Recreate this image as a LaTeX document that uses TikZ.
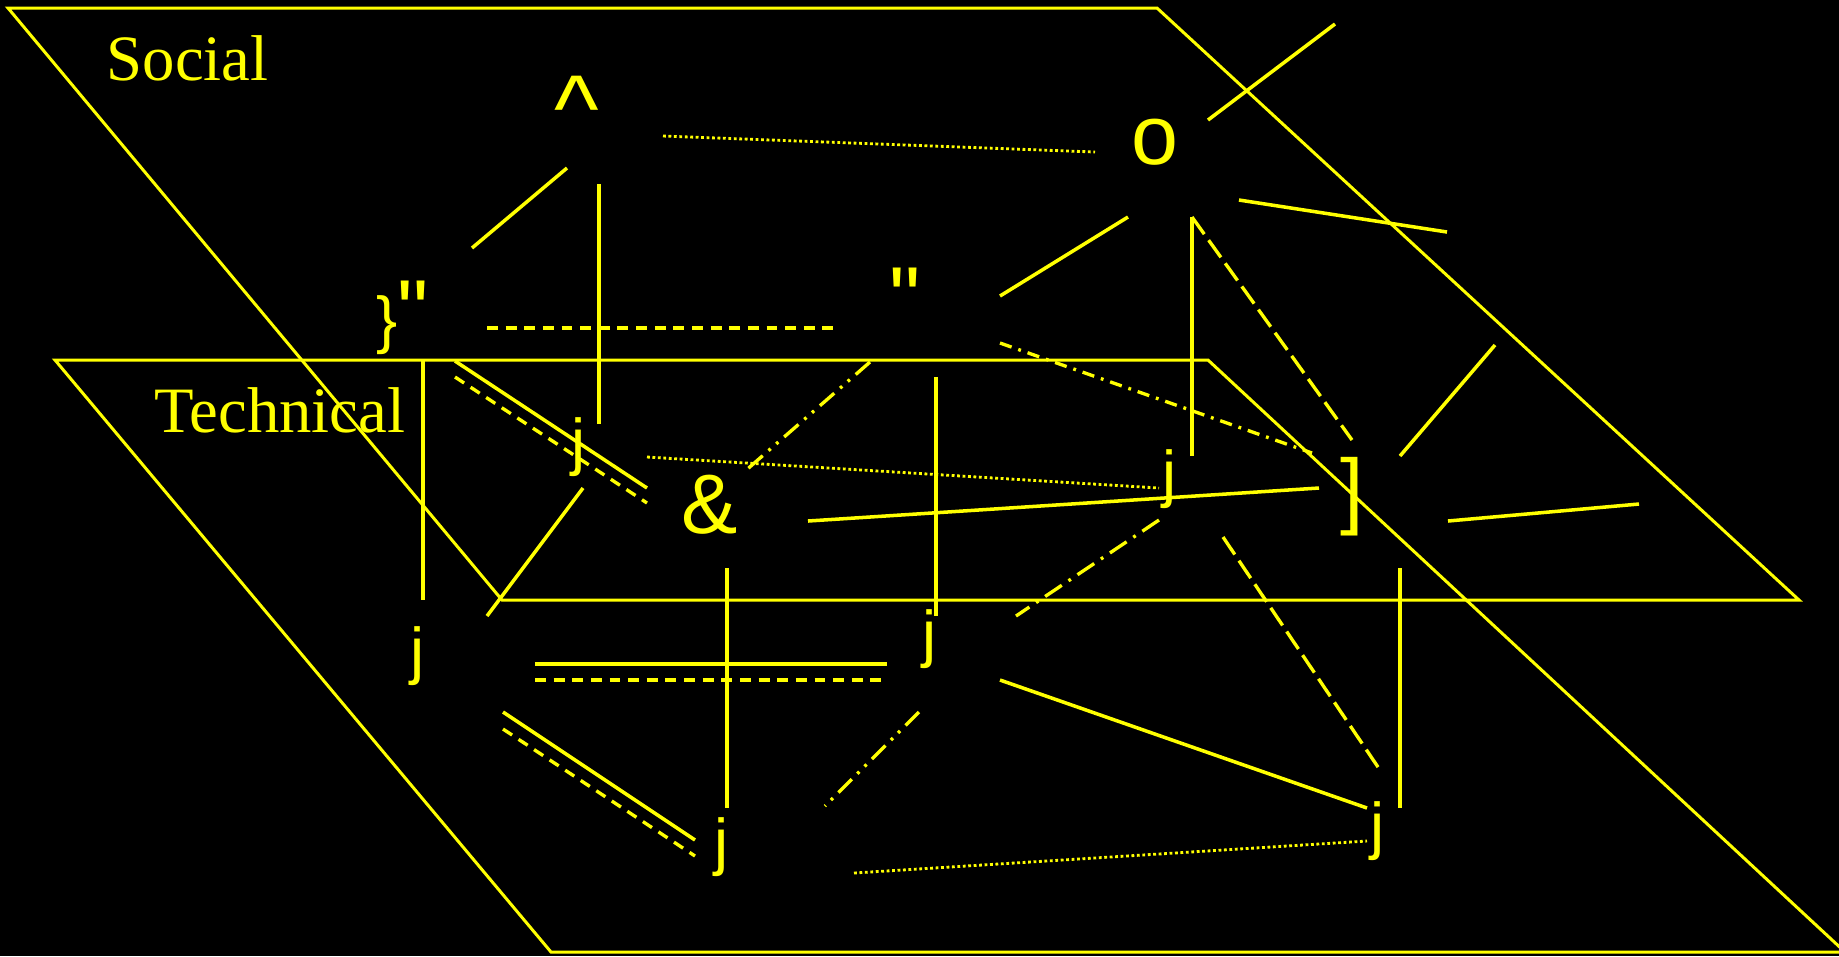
\documentclass[tikz,border=0pt]{standalone}
\usepackage{fontspec}
\setmainfont{Liberation Serif}
\newfontfamily\symsans{Liberation Sans}
\usepackage{xcolor}
\usepackage{tikz}
\definecolor{yel}{HTML}{FFFF00}
\definecolor{bg}{HTML}{000000}

\begin{document}
\begin{tikzpicture}[
  x=0.01cm,y=-0.01cm,
  plane/.style={draw=yel,line width=0.85pt},
  lbl/.style={text=yel,inner sep=0pt,anchor=base west,font=\fontsize{18.4}{20}\selectfont},
  sym/.style={text=yel,inner sep=0pt,anchor=base,font=\symsans\fontsize{24}{26}\selectfont},
  jn/.style={sym,font=\symsans\fontsize{18}{20}\selectfont},
  solidln/.style={draw=yel,line width=1pt},
  dashln/.style={solidln,line width=0.95pt,dash pattern=on 3.1pt off 2.2pt},
  longdashln/.style={solidln,line width=0.95pt,dash pattern=on 6pt off 2.1pt},
  dashdotln/.style={solidln,line width=0.95pt,dash pattern=on 5.7pt off 2.3pt on 0.8pt off 2.3pt},
  shortdashdotln/.style={solidln,line width=0.95pt,dash pattern=on 3.5pt off 2pt on 0.8pt off 2pt},
  dashdotdotln/.style={solidln,line width=0.95pt,dash pattern=on 5.4pt off 2.2pt on 0.8pt off 2.1pt on 0.8pt off 2.2pt},
  dotln/.style={solidln,line width=0.8pt,dash pattern=on 0.8pt off 0.75pt}]
  \useasboundingbox (0,0) rectangle (1839,956);
  \fill[bg] (0,0) rectangle (1839,956);

  % the two layers
  \draw[plane] (8,8) -- (1157,8) -- (1799,600) -- (502,600) -- cycle;
  \draw[plane] (55,360) -- (1208,360) -- (1845,952) -- (551,952) -- cycle;
  \node[lbl] (social) at (106,80) {Social};
  \node[lbl] (technical) at (154,432) {Technical};

  % social layer
  \node[sym,font=\symsans\fontsize{27}{29}\selectfont] (caret) at (577,141) {\textasciicircum};
  \node[sym] (circ) at (1155,164) {o};
  \node[jn] (brq) at (403,341) {\}{\fontsize{25}{27}\selectfont"}};
  \node[sym,font=\symsans\fontsize{25}{27}\selectfont] (quo) at (905,328) {"};
  \node[sym] (amp) at (710,533) {\&};
  \node[sym] (brk) at (1352,518) {]};

  % technical layer
  \node[jn] (ja) at (579,463) {j};
  \node[jn] (jb) at (1170,495) {j};
  \node[jn] (jc) at (418,672) {j};
  \node[jn] (jd) at (930,655) {j};
  \node[jn] (je) at (722,863) {j};
  \node[jn] (jf) at (1378,847) {j};

  % links inside the social layer
  \draw[solidln] ([shift={(-10,27)}]caret.base) -- ([shift={(69,-93)}]brq.base);
  \draw[dotln] ([shift={(86,-5)}]caret.base) -- ([shift={(-60,-12)}]circ.base);
  \draw[dashln] ([shift={(84,-13)}]brq.base) -- ([shift={(-71,0)}]quo.base);
  \draw[solidln] ([shift={(95,-32)}]quo.base) -- ([shift={(-27,53)}]circ.base);
  \draw[solidln] ([shift={(53,-44)}]circ.base) -- ([shift={(180,-140)}]circ.base);
  \draw[solidln] ([shift={(84,36)}]circ.base) -- ([shift={(292,68)}]circ.base);
  \draw[longdashln] ([shift={(37,53)}]circ.base) -- ([shift={(0,-78)}]brk.base);
  \draw[shortdashdotln] ([shift={(95,15)}]quo.base) -- ([shift={(-40,-65)}]brk.base);
  \draw[solidln] ([shift={(52,20)}]brq.base) -- ([shift={(-63,-45)}]amp.base);
  \draw[dashln] ([shift={(52,36)}]brq.base) -- ([shift={(-63,-30)}]amp.base);
  \draw[dashdotdotln] ([shift={(-35,34)}]quo.base) -- ([shift={(34,-61)}]amp.base);
  \draw[solidln] ([shift={(98,-12)}]amp.base) -- ([shift={(-33,-30)}]brk.base);
  \draw[solidln] ([shift={(48,-62)}]brk.base) -- ([shift={(143,-173)}]brk.base);
  \draw[solidln] ([shift={(96,3)}]brk.base) -- ([shift={(287,-14)}]brk.base);

  % links between the layers
  \draw[solidln] ([shift={(22,43)}]caret.base) -- ([shift={(20,-39)}]ja.base);
  \draw[solidln] ([shift={(37,53)}]circ.base) -- ([shift={(22,-39)}]jb.base);
  \draw[solidln] ([shift={(20,20)}]brq.base) -- ([shift={(5,-72)}]jc.base);
  \draw[solidln] ([shift={(31,49)}]quo.base) -- ([shift={(6,-39)}]jd.base);
  \draw[solidln] ([shift={(17,35)}]amp.base) -- ([shift={(5,-55)}]je.base);
  \draw[solidln] ([shift={(48,50)}]brk.base) -- ([shift={(22,-39)}]jf.base);

  % links inside the technical layer
  \draw[dotln] ([shift={(68,-6)}]ja.base) -- ([shift={(-11,-7)}]jb.base);
  \draw[solidln] ([shift={(4,25)}]ja.base) -- ([shift={(69,-56)}]jc.base);
  \draw[dashdotln] ([shift={(-11,25)}]jb.base) -- ([shift={(86,-39)}]jd.base);
  \draw[longdashln] ([shift={(53,42)}]jb.base) -- ([shift={(4,-74)}]jf.base);
  \draw[solidln] ([shift={(117,-8)}]jc.base) -- ([shift={(-43,9)}]jd.base);
  \draw[dashln] ([shift={(117,8)}]jc.base) -- ([shift={(-48,25)}]jd.base);
  \draw[solidln] ([shift={(85,40)}]jc.base) -- ([shift={(-27,-23)}]je.base);
  \draw[dashln] ([shift={(85,57)}]jc.base) -- ([shift={(-27,-7)}]je.base);
  \draw[dashdotdotln] ([shift={(-11,57)}]jd.base) -- ([shift={(103,-57)}]je.base);
  \draw[solidln] ([shift={(70,25)}]jd.base) -- ([shift={(-11,-39)}]jf.base);
  \draw[dotln] ([shift={(132,10)}]je.base) -- ([shift={(-11,-6)}]jf.base);
\end{tikzpicture}
\end{document}
